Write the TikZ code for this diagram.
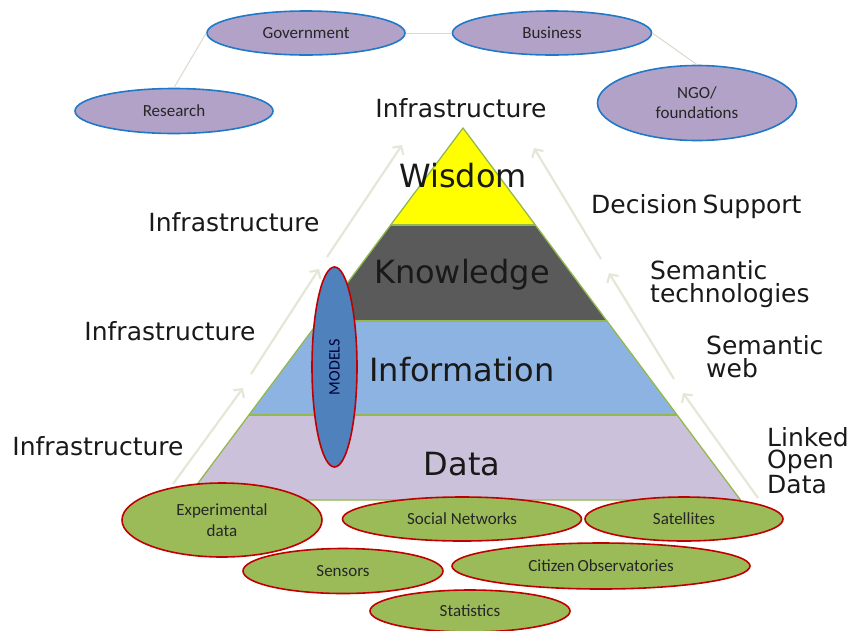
\documentclass[tikz,border=0pt]{standalone}
\usepackage{fontspec}
\setmainfont{DejaVu Sans}
\newfontfamily\calib{Carlito}
\usetikzlibrary{shapes.geometric,arrows.meta}
\definecolor{purp}{HTML}{B3A2C7}
\definecolor{bluebd}{HTML}{1F78C8}
\definecolor{grn}{HTML}{9BBB59}
\definecolor{redbd}{HTML}{C00000}
\definecolor{wis}{HTML}{FFFF00}
\definecolor{kno}{HTML}{5A5A5A}
\definecolor{inf}{HTML}{8DB3E2}
\definecolor{dat}{HTML}{CCC1DA}
\definecolor{modf}{HTML}{4F81BD}
\definecolor{arr}{HTML}{E6E6D8}
\definecolor{linkc}{HTML}{DADACD}
\definecolor{edgec}{HTML}{92B84E}
\begin{document}
\begin{tikzpicture}[x=1pt,y=-1pt,
  topell/.style={ellipse,draw=bluebd,line width=1.6pt,fill=purp,inner sep=0pt,
    font=\calib\fontsize{17}{20}\selectfont,text=black!85,align=center},
  grnell/.style={ellipse,draw=redbd,line width=1.6pt,fill=grn,inner sep=0pt,
    font=\calib\fontsize{17}{21}\selectfont,text=black!85,align=center},
  biglabel/.style={font=\fontsize{25}{22.5}\selectfont,inner sep=0pt,align=left,text=black!90},
  layerlabel/.style={font=\fontsize{32}{34}\selectfont,inner sep=0pt,anchor=base,text=black!90},
  link/.style={draw=linkc,line width=1pt},
  flow/.style={draw=arr,line width=2.2pt,-{Straight Barb[length=6pt,width=13pt]}},
  layer/.style={draw=edgec,line width=1.3pt,line join=round}
]
\useasboundingbox (0,0) rectangle (848,630);

% top ellipses
\node[topell,minimum width=198pt,minimum height=44pt] (gov) at (306,33) {Government};
\node[topell,minimum width=199pt,minimum height=44pt] (bus) at (552,33) {Business};
\node[topell,minimum width=198pt,minimum height=45pt] (res) at (174,111) {Research};
\node[topell,minimum width=199pt,minimum height=75pt] (ngo) at (697,103) {NGO/\\foundations};
\draw[link] (res.north) -- (gov.west);
\draw[link] (gov.east) -- (bus.west);
\draw[link] (bus.east) -- (ngo.north);

% flow arrows
\coordinate (l1s) at (173,484); \coordinate (l1e) at (243,388);
\coordinate (l2s) at (251,374); \coordinate (l2e) at (319,269);
\coordinate (l3s) at (327,257); \coordinate (l3e) at (402,145);
\coordinate (r1s) at (758,498); \coordinate (r1e) at (683,393);
\coordinate (r2s) at (674,379); \coordinate (r2e) at (609,273);
\coordinate (r3s) at (601,259); \coordinate (r3e) at (534,148);
\draw[flow] (l1s) -- (l1e);
\draw[flow] (l2s) -- (l2e);
\draw[flow] (l3s) -- (l3e);
\draw[flow] (r1s) -- (r1e);
\draw[flow] (r2s) -- (r2e);
\draw[flow] (r3s) -- (r3e);

% pyramid
\coordinate (apex) at (463,128);
\coordinate (wl) at (390.6,225); \coordinate (wr) at (535.4,225);
\coordinate (kl) at (319,321);   \coordinate (kr) at (607,321);
\coordinate (il) at (249,415);   \coordinate (ir) at (677,415);
\coordinate (dl) at (185.5,500); \coordinate (dr) at (740.5,500);
\fill[wis] (apex) -- (wr) -- (wl) -- cycle;
\fill[kno] (wl) -- (wr) -- (kr) -- (kl) -- cycle;
\fill[inf] (kl) -- (kr) -- (ir) -- (il) -- cycle;
\fill[dat] (il) -- (ir) -- (dr) -- (dl) -- cycle;
\draw[layer] (apex) -- (dr) -- (dl) -- cycle;
\draw[layer] (wl) -- (wr);
\draw[layer] (kl) -- (kr);
\draw[layer] (il) -- (ir);

\node[layerlabel] (wisdom) at (463,187) {Wisdom};
\node[layerlabel] (knowledge) at (462,283) {Knowledge};
\node[layerlabel] (information) at (462,381) {Information};
\node[layerlabel] (data) at (462,475) {Data};

% models
\node[ellipse,draw=redbd,line width=1.6pt,fill=modf,inner sep=0pt,
  minimum width=45pt,minimum height=200pt] (models) at (334.5,367) {};
\node[rotate=90,font=\calib\fontsize{16}{18}\selectfont,text=black!80!blue,inner sep=0pt] (modelstxt) at (models.center) {MODELS};

% side labels
\node[biglabel,anchor=base] (inf0) at (461,117) {Infrastructure};
\node[biglabel,anchor=base] (inf1) at (234,231) {Infrastructure};
\node[biglabel,anchor=base] (inf2) at (170,340) {Infrastructure};
\node[biglabel,anchor=base] (inf3) at (98,455) {Infrastructure};
\node[biglabel,anchor=base west] (dec) at (591,213) {Decision\hspace{5pt}Support};
\node[biglabel,anchor=base west] (semt) at (650,302) {Semantic\\technologies};
\node[biglabel,anchor=base west] (semw) at (706,377) {Semantic\\web};
\node[biglabel,anchor=base west] (lod) at (767,493) {Linked\\Open\\Data};

% data sources
\node[grnell,minimum width=200pt,minimum height=74pt] (exp) at (222,520) {Experimental\\data};
\node[grnell,minimum width=239pt,minimum height=44pt] (soc) at (462,519) {Social Networks};
\node[grnell,minimum width=198pt,minimum height=44pt] (sat) at (684,519) {Satellites};
\node[grnell,minimum width=200pt,minimum height=45pt] (sen) at (343,571) {Sensors};
\node[grnell,minimum width=298pt,minimum height=46pt] (cit) at (601,566) {Citizen\hspace{3pt}Observatories};
\node[grnell,minimum width=200pt,minimum height=42pt] (sta) at (470,611) {Statistics};
\end{tikzpicture}
\end{document}
